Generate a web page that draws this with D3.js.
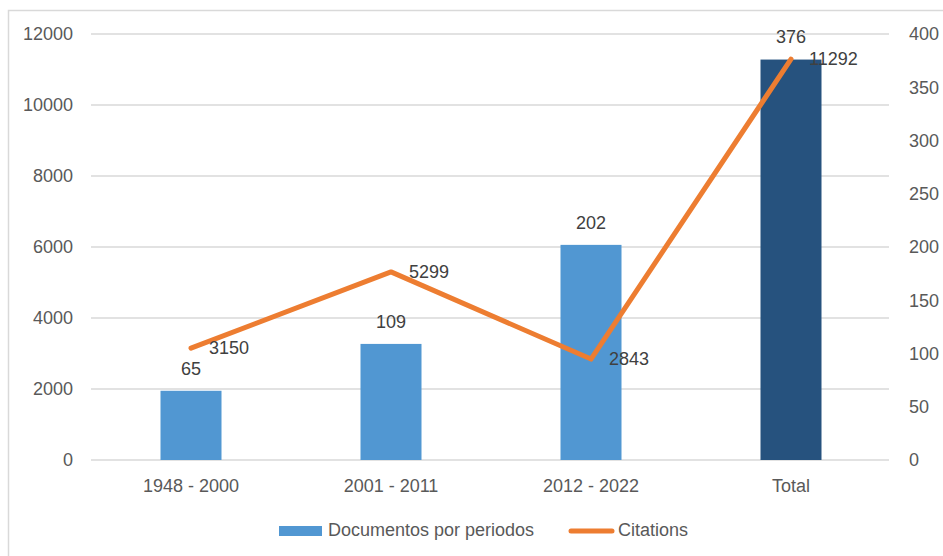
<!DOCTYPE html>
<html>
<head>
<meta charset="utf-8">
<script src="https://cdn.jsdelivr.net/npm/d3@7"></script>
<style>
  html, body { margin: 0; padding: 0; background: #fff; }
  svg { display: block; font-family: "Liberation Sans", Arial, sans-serif; }
</style>
</head>
<body>
<svg id="chart" width="943" height="556"></svg>
<script>
const categories = ["1948 - 2000", "2001 - 2011", "2012 - 2022", "Total"];
const documentos = [65, 109, 202, 376];
const citations = [3150, 5299, 2843, 11292];
const leftTicks = [0, 2000, 4000, 6000, 8000, 10000, 12000];
const rightTicks = [0, 50, 100, 150, 200, 250, 300, 350, 400];
const barColors = ["#5197d2", "#5197d2", "#5197d2", "#26527e"];

const FS = 18;
const svg = d3.select("#chart");
const plot = { left: 91, right: 891, top: 34, bottom: 460 };

// outer frame (only top/left visible in reference)
svg.append("rect").attr("x", 8.5).attr("y", 10.5).attr("width", 1000).attr("height", 1000)
  .attr("fill", "none").attr("stroke", "#d9d9d9").attr("stroke-width", 1.5);

const x = d3.scaleBand().domain(categories).range([plot.left, plot.right])
  .paddingInner(0.695).paddingOuter(0.3475);
const yL = d3.scaleLinear().domain([0, 12000]).range([plot.bottom, plot.top]);
const yR = d3.scaleLinear().domain([0, 400]).range([plot.bottom, plot.top]);

// gridlines
svg.append("g").selectAll("line").data(leftTicks).join("line")
  .attr("x1", plot.left).attr("x2", plot.right - 2)
  .attr("y1", d => yL(d)).attr("y2", d => yL(d))
  .attr("stroke", "#d9d9d9").attr("stroke-width", 1.4);

// left axis labels
const leftAxis = d3.axisLeft(yL).tickValues(leftTicks).tickSize(0).tickPadding(0).tickFormat(d3.format("d"));
const gL = svg.append("g").attr("transform", `translate(73,0)`).call(leftAxis);
gL.select(".domain").remove();
gL.selectAll("text").attr("font-size", FS).attr("fill", "#595959").attr("font-family", "Liberation Sans, Arial, sans-serif");

// right axis labels (left-aligned)
const rightAxis = d3.axisRight(yR).tickValues(rightTicks).tickSize(0).tickPadding(0).tickFormat(d3.format("d"));
const gR = svg.append("g").attr("transform", `translate(909,0)`).call(rightAxis);
gR.select(".domain").remove();
gR.selectAll("text").attr("font-size", FS).attr("fill", "#595959").attr("font-family", "Liberation Sans, Arial, sans-serif");

// x axis labels
const xAxis = d3.axisBottom(x).tickSize(0).tickPadding(0);
const gX = svg.append("g").attr("transform", `translate(0,${plot.bottom})`).call(xAxis);
gX.select(".domain").remove();
gX.selectAll("text").attr("font-size", FS).attr("fill", "#595959")
  .attr("font-family", "Liberation Sans, Arial, sans-serif")
  .attr("dy", null).attr("y", 27).attr("dominant-baseline", "middle");

// bars
svg.append("g").selectAll("rect").data(categories).join("rect")
  .attr("x", d => x(d)).attr("width", x.bandwidth())
  .attr("y", (d, i) => yR(documentos[i]))
  .attr("height", (d, i) => plot.bottom - yR(documentos[i]))
  .attr("fill", (d, i) => barColors[i]);

// line
const line = d3.line().x((d, i) => x(categories[i]) + x.bandwidth() / 2).y(d => yL(d));
svg.append("path").datum(citations).attr("d", line)
  .attr("fill", "none").attr("stroke", "#ed7d31").attr("stroke-width", 5)
  .attr("stroke-linecap", "round").attr("stroke-linejoin", "round");

// bar labels
svg.append("g").selectAll("text").data(categories).join("text")
  .attr("x", d => x(d) + x.bandwidth() / 2)
  .attr("y", (d, i) => yR(documentos[i]) - 21)
  .attr("text-anchor", "middle").attr("dominant-baseline", "middle")
  .attr("font-size", FS).attr("fill", "#404040")
  .text((d, i) => documentos[i]);

// line labels
svg.append("g").selectAll("text").data(categories).join("text")
  .attr("x", d => x(d) + x.bandwidth() / 2 + 18)
  .attr("y", (d, i) => yL(citations[i]) + 1)
  .attr("text-anchor", "start").attr("dominant-baseline", "middle")
  .attr("font-size", FS).attr("fill", "#404040")
  .text((d, i) => citations[i]);

// legend
const lg = svg.append("g");
lg.append("rect").attr("x", 279).attr("y", 526).attr("width", 43).attr("height", 10).attr("fill", "#5197d2");
lg.append("text").attr("x", 328).attr("y", 531).attr("dominant-baseline", "middle")
  .attr("font-size", FS).attr("fill", "#595959").text("Documentos por periodos");
lg.append("line").attr("x1", 571).attr("x2", 612).attr("y1", 531).attr("y2", 531)
  .attr("stroke", "#ed7d31").attr("stroke-width", 5).attr("stroke-linecap", "round");
lg.append("text").attr("x", 618).attr("y", 531).attr("dominant-baseline", "middle")
  .attr("font-size", FS).attr("fill", "#595959").text("Citations");
</script>
</body>
</html>
